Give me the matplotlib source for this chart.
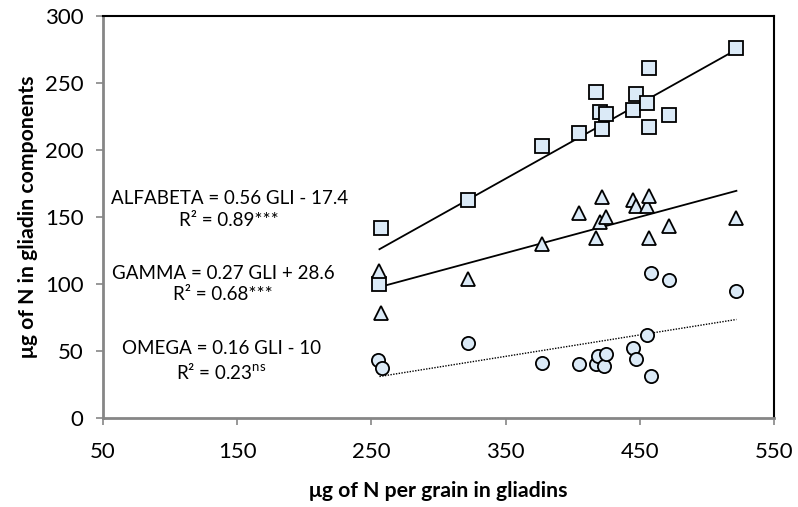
import numpy as np
import matplotlib
matplotlib.use('Agg')
import matplotlib.pyplot as plt

plt.rcParams['font.family'] = ['Lato', 'DejaVu Sans']
plt.rcParams['mathtext.fontset'] = 'custom'
plt.rcParams['mathtext.rm'] = 'Lato'

# Data (GLI = ug of N per grain in gliadins)
alfabeta_x = [256, 257, 322, 377, 405, 417, 420, 422, 425, 445, 447, 455, 457, 457, 472, 522]
alfabeta_y = [100, 142, 163, 203, 213, 243, 228, 216, 227, 230, 242, 235, 261, 217, 226, 276]

gamma_x = [256, 257, 322, 377, 405, 417, 420, 422, 425, 445, 447, 455, 457, 457, 472, 522]
gamma_y = [110, 78, 104, 130, 153, 134, 146, 165, 150, 163, 158, 158, 166, 134, 143, 149]

omega_x = [255, 258, 322, 377, 405, 417, 419, 423, 425, 445, 447, 455, 458, 458, 472, 522]
omega_y = [43, 37, 56, 41, 40, 40, 46, 39, 48, 52, 44, 62, 108, 31, 103, 95]

# regression coefficients (slope, intercept) from the chart labels
alfabeta_fit = (0.56, -17.4)
gamma_fit = (0.27, 28.6)
omega_fit = (0.16, -10)
fit_range = [256, 522]

face = '#dbeaf7'

fig = plt.figure(figsize=(7.98, 5.07), dpi=100)
ax = fig.add_axes([103 / 798, 1 - 418 / 507, (774 - 103) / 798, (418 - 16) / 507])

xs = np.array(fit_range)
ax.plot(xs, alfabeta_fit[0] * xs + alfabeta_fit[1], color='black', lw=1.3, zorder=2)
ax.plot(xs, gamma_fit[0] * xs + gamma_fit[1], color='black', lw=1.3, zorder=2)
ax.plot(xs, omega_fit[0] * xs + omega_fit[1], color='black', lw=1.0, ls=(0, (1, 1)), zorder=2)

ax.plot(alfabeta_x, alfabeta_y, 's', ms=9.5, mfc=face, mec='black', mew=1.3, zorder=3)
ax.plot(gamma_x, gamma_y, '^', ms=9.5, mfc=face, mec='black', mew=1.3, zorder=3)
ax.plot(omega_x, omega_y, 'o', ms=9.5, mfc=face, mec='black', mew=1.3, zorder=3)

# equation labels
fs = 13.5
ax.text(144, 163.5, 'ALFABETA = 0.56 GLI - 17.4', ha='center', va='center', fontsize=fs)
ax.text(144, 147.5, 'R² = 0.89***', ha='center', va='center', fontsize=fs)
ax.text(139.5, 107.5, 'GAMMA = 0.27 GLI + 28.6', ha='center', va='center', fontsize=fs)
ax.text(139.5, 92, 'R² = 0.68***', ha='center', va='center', fontsize=fs)
ax.text(138, 51.5, 'OMEGA = 0.16 GLI - 10', ha='center', va='center', fontsize=fs)
ax.text(138, 34.5, r'R² = 0.23$^{\mathrm{ns}}$', ha='center', va='center', fontsize=fs)

ax.set_xlim(50, 550)
ax.set_ylim(0, 300)
ax.set_xticks([50, 150, 250, 350, 450, 550])
ax.set_yticks([0, 50, 100, 150, 200, 250, 300])

for side in ['left', 'bottom']:
    ax.spines[side].set_color('#868686')
    ax.spines[side].set_linewidth(2)
for side in ['top', 'right']:
    ax.spines[side].set_color('black')
    ax.spines[side].set_linewidth(1.5)

ax.tick_params(axis='y', direction='out', length=5, width=1.2, color='#868686',
               labelsize=16, pad=9)
ax.tick_params(axis='x', direction='out', length=5, width=1.2, color='#868686',
               labelsize=16, pad=12)

ax.set_xlabel('μg of N per grain in gliadins', fontsize=15.3, fontweight='bold', labelpad=14)
ax.set_ylabel('μg of N in gliadin components', fontsize=15.3, fontweight='bold', labelpad=5)

fig.savefig('out.png', dpi=100)
